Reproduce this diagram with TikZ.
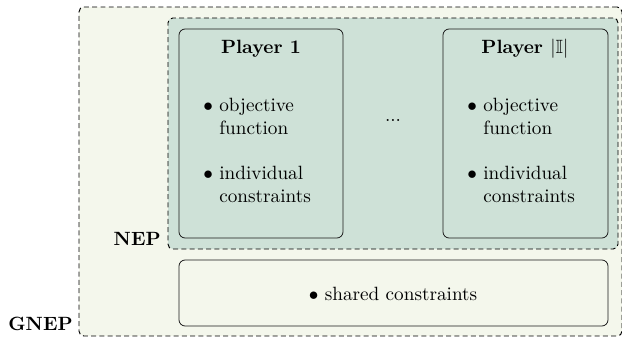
\documentclass[tikz,border=0pt]{standalone}
\usepackage{amssymb}
\usetikzlibrary{fit}
\definecolor{outerfill}{HTML}{F4F7EC}
\definecolor{nepfill}{HTML}{CEE1D7}
\tikzset{
  x=0.521pt, y=-0.521pt,
  dashbox/.style={draw=black, line width=0.5pt, dash pattern=on 2.6pt off 1.7pt, rounded corners=2.5pt, inner sep=0pt},
  solidbox/.style={draw=black!90, rounded corners=3.2pt, inner sep=0pt},
  item/.style={align=left, anchor=north west, inner sep=0pt},
  lbl/.style={font=\bfseries, inner sep=0pt}
}
\newcommand{\bitem}[2]{\begin{tabular}{@{}l@{\ }l@{}}$\bullet$ & #1\\ & #2\end{tabular}}
\begin{document}
\begin{tikzpicture}
\useasboundingbox (0,0) rectangle (622,338);
% coordinates
\coordinate (g1) at (79,7);   \coordinate (g2) at (622,336);
\coordinate (n1) at (168,18); \coordinate (n2) at (618,249);
\coordinate (a1) at (179,29); \coordinate (a2) at (343,238);
\coordinate (b1) at (443,29); \coordinate (b2) at (608,238);
\coordinate (s1) at (179,260);\coordinate (s2) at (608,326);
\node[dashbox, fill=outerfill, fit=(g1)(g2)] (gnep) {};
\node[dashbox, fill=nepfill, fit=(n1)(n2)] (nep) {};
\node[solidbox, fill=nepfill, fit=(a1)(a2)] (p1) {};
\node[solidbox, fill=nepfill, fit=(b1)(b2)] (pI) {};
\node[solidbox, fill=outerfill, fit=(s1)(s2)] (sh) {};
% titles
\node[lbl] (p1t) at (261,49) {Player 1};
\node[lbl] (pIt) at (525,49) {Player $|\mathbb{I}|$};
% items
\node[item] (p1o) at (203,95) {\bitem{objective}{function}};
\node[item] (p1i) at (203,163) {\bitem{individual}{constraints}};
\node[item] (pIo) at (467,95) {\bitem{objective}{function}};
\node[item] (pIi) at (467,163) {\bitem{individual}{constraints}};
\node (dots) at (393,120) {...};
\node (shi) at (393,294) {$\bullet$ shared constraints};
% labels
\node[lbl, anchor=east] (nepl) at (161,239) {NEP};
\node[lbl, anchor=east] (gnepl) at (73,324) {GNEP};
\end{tikzpicture}
\end{document}
